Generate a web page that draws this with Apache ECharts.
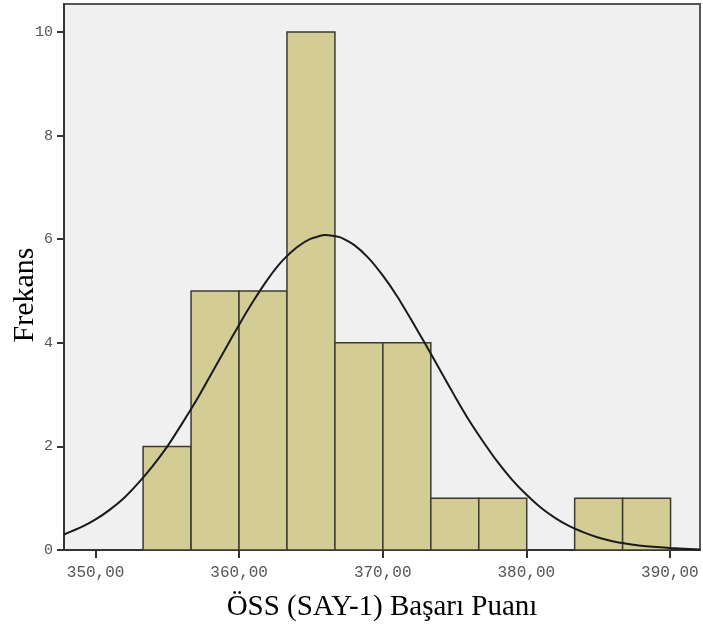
<!DOCTYPE html>
<html>
<head>
<meta charset="utf-8">
<script src="https://cdn.jsdelivr.net/npm/echarts@6/dist/echarts.min.js"></script>
<style>html,body{margin:0;padding:0;background:#fff}#c{width:703px;height:630px}</style>
</head>
<body>
<div id="c"></div>
<script>
// Histogram bins (lower edge, upper edge) and frequencies
var binEdges = [353.31, 356.65, 359.99, 363.33, 366.67, 370.01, 373.35, 376.69, 380.03, 383.37, 386.71, 390.05];
var binCounts = [2, 5, 5, 10, 4, 4, 1, 1, 0, 1, 1];
// Normal curve
var curveX = [347.8, 349, 350, 351, 352, 353, 354, 355, 356, 357, 358, 359, 360, 361, 362, 363, 364, 365, 366, 367, 368, 369, 370, 371, 372, 373, 374, 375, 376, 377, 378, 379, 380, 381, 382, 383, 384, 385, 386, 387, 388, 390, 392.1];
var curveY = [0.30, 0.44, 0.59, 0.78, 1.01, 1.30, 1.63, 2.00, 2.43, 2.88, 3.37, 3.86, 4.35, 4.81, 5.23, 5.58, 5.84, 6.01, 6.08, 6.04, 5.89, 5.64, 5.30, 4.90, 4.44, 3.96, 3.47, 2.98, 2.51, 2.09, 1.70, 1.36, 1.07, 0.82, 0.62, 0.46, 0.34, 0.24, 0.17, 0.12, 0.08, 0.04, 0.01];
var xTicks = [350, 360, 370, 380, 390];
var yTicks = [0, 2, 4, 6, 8, 10];
var xTitle = 'ÖSS (SAY-1) Başarı Puanı';
var yTitle = 'Frekans';

var barData = [];
for (var i = 0; i < binCounts.length; i++) {
  if (binCounts[i] > 0) barData.push([binEdges[i], binEdges[i + 1], binCounts[i]]);
}
var lineData = curveX.map(function (x, i) { return [x, curveY[i]]; });

var chart = echarts.init(document.getElementById('c'), null, { renderer: 'canvas' });
chart.setOption({
  backgroundColor: '#ffffff',
  animation: false,
  grid: {
    left: 64, top: 4, right: 3, bottom: 80,
    containLabel: false, outerBoundsMode: 'none',
    show: true, backgroundColor: '#f0f0f0', borderColor: '#555', borderWidth: 2
  },
  graphic: [{
    type: 'text',
    x: 25, y: 295,
    rotation: Math.PI / 2,
    style: {
      text: yTitle, fill: '#000',
      font: '30px "Liberation Serif"',
      align: 'center', verticalAlign: 'middle'
    }
  }],
  xAxis: {
    type: 'value', min: 347.8, max: 392.1,
    name: xTitle, nameLocation: 'middle', nameGap: 43,
    nameTextStyle: { fontFamily: 'Liberation Serif', fontSize: 29, color: '#000' },
    axisLine: { show: true, lineStyle: { color: '#333', width: 2 } },
    axisTick: { show: true, customValues: xTicks, length: 8, lineStyle: { color: '#333', width: 2 } },
    axisLabel: {
      customValues: xTicks, margin: 15,
      fontFamily: 'Liberation Mono', fontSize: 16, color: '#555',
      formatter: function (v) { return v.toFixed(2).replace('.', ','); }
    },
    splitLine: { show: false }
  },
  yAxis: {
    type: 'value', min: 0, max: 10.54,
    axisLine: { show: true, lineStyle: { color: '#333', width: 2 } },
    axisTick: { show: true, customValues: yTicks, length: 7, lineStyle: { color: '#333', width: 2 } },
    axisLabel: { customValues: yTicks, margin: 11, fontFamily: 'Liberation Mono', fontSize: 15, color: '#555' },
    splitLine: { show: false }
  },
  series: [
    {
      type: 'custom',
      data: barData,
      encode: { x: [0, 1], y: 2 },
      renderItem: function (params, api) {
        var p0 = api.coord([api.value(0), api.value(2)]);
        var p1 = api.coord([api.value(1), 0]);
        return {
          type: 'rect',
          shape: { x: p0[0], y: p0[1], width: p1[0] - p0[0], height: p1[1] - p0[1] },
          style: { fill: '#d3cd95', stroke: '#3a3a30', lineWidth: 1.5 }
        };
      },
      z: 2
    },
    {
      type: 'line',
      data: lineData,
      smooth: 0.2,
      showSymbol: false,
      lineStyle: { color: '#1a1a1a', width: 2 },
      z: 3
    }
  ]
});
</script>
</body>
</html>
